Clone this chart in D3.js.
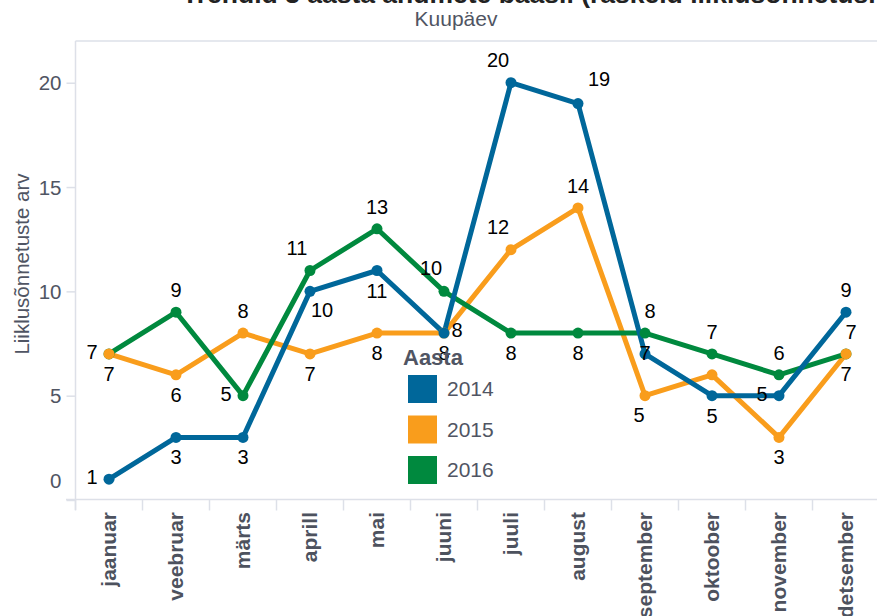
<!DOCTYPE html>
<html>
<head>
  <meta charset="utf-8">
  <title>Trendid 3 aasta andmete baasil</title>
  <style>
    body { margin: 0; background: #fff; overflow: hidden; }
    svg { display: block; font-family: Arial, "Liberation Sans", sans-serif; }
    .axis-line { stroke: #dde0e8; stroke-width: 1.5px; fill: none; }
    .tick-label { fill: #505563; font-size: 20.5px; }
    .month-label { fill: #4d525e; font-size: 21px; font-weight: bold; }
    .line { fill: none; stroke-width: 5px; stroke-linejoin: round; }
    .value-label { fill: #000; font-size: 20px; }
  </style>
</head>
<body>
  <script src="https://d3js.org/d3.v7.min.js"></script>
  <script>
    const months = ["jaanuar", "veebruar", "märts", "aprill", "mai", "juuni",
                    "juuli", "august", "september", "oktoober", "november", "detsember"];
    const years = ["2014", "2015", "2016"];
    const values2014 = [1, 3, 3, 10, 11, 8, 20, 19, 7, 5, 5, 9];
    const values2015 = [7, 6, 8, 7, 8, 8, 12, 14, 5, 6, 3, 7];
    const values2016 = [7, 9, 5, 11, 13, 10, 8, 8, 8, 7, 6, 7];
    const yTicks = [0, 5, 10, 15, 20];

    // where each value label sits relative to its point ("" = hidden)
    const place2014 = ["l", "b", "b", "br", "b", "r", "al", "ar", "c", "b", "l", "a"];
    const place2015 = ["b", "b", "a", "b", "b", "b", "al", "a", "bl", "", "b", "b"];
    const place2016 = ["l", "a", "l", "al", "a", "al", "b", "b", "ar2", "a", "a", "ar2"];

    const offsets = {
      a: [0, -22], b: [0, 20], l: [-17, -2], r: [13, -3], c: [0, -1],
      al: [-13, -23], ar: [21, -25], br: [12, 19], bl: [-6, 19], ar2: [5, -22]
    };

    const colors = { "2014": "#00679a", "2015": "#f99d1c", "2016": "#00893e" };

    const series = [
      { year: "2014", values: values2014, place: place2014 },
      { year: "2015", values: values2015, place: place2015 },
      { year: "2016", values: values2016, place: place2016 }
    ];

    const width = 877, height = 616;
    const svg = d3.select("body").append("svg")
      .attr("width", width).attr("height", height);

    const x = d3.scaleBand().domain(months).range([75.5, 879.5]);
    const y = d3.scaleLinear().domain([0, 22]).range([500, 41]);
    const cx = m => x(m) + x.bandwidth() / 2;

    // title (partly outside the view, as in the original)
    svg.append("text")
      .attr("x", 182).attr("y", 3)
      .attr("font-size", 26.5).attr("font-weight", "bold").attr("fill", "#222")
      .text("Trendid 3 aasta andmete baasil (raskeid liiklusõnnetusi kuude lõikes)");

    svg.append("text")
      .attr("x", 456).attr("y", 26)
      .attr("text-anchor", "middle")
      .attr("font-size", 21).attr("fill", "#505563")
      .text("Kuupäev");

    // frame lines
    svg.append("line").attr("class", "axis-line")
      .attr("x1", 75.5).attr("x2", width).attr("y1", 41).attr("y2", 41);
    svg.append("line").attr("class", "axis-line")
      .attr("x1", 75.5).attr("x2", 75.5).attr("y1", 41).attr("y2", 510);
    svg.append("line").attr("class", "axis-line")
      .attr("x1", 66).attr("x2", width).attr("y1", 499.5).attr("y2", 499.5);

    // y axis
    const yAxis = svg.append("g").attr("transform", "translate(75.5,0)")
      .call(d3.axisLeft(y).tickValues(yTicks).tickSize(9).tickPadding(5));
    yAxis.select(".domain").remove();
    yAxis.selectAll(".tick line").attr("class", "axis-line");
    yAxis.selectAll(".tick text")
      .attr("class", "tick-label")
      .attr("font-family", null).attr("font-size", null).attr("fill", null)
      .attr("dy", d => d === 0 ? "-0.6em" : "0.35em");

    svg.append("text")
      .attr("transform", "translate(29,264) rotate(-90)")
      .attr("text-anchor", "middle")
      .attr("class", "tick-label")
      .text("Liiklusõnnetuste arv");

    // x axis: band separators + rotated labels
    const xAxis = svg.append("g").attr("transform", "translate(0,499.5)")
      .call(d3.axisBottom(x).tickSize(0).tickPadding(0));
    xAxis.select(".domain").remove();
    xAxis.selectAll(".tick text").remove();
    xAxis.selectAll(".sep")
      .data(months.concat(["_end"]))
      .join("line")
      .attr("class", "axis-line")
      .attr("x1", (d, i) => 75.5 + i * x.step())
      .attr("x2", (d, i) => 75.5 + i * x.step())
      .attr("y1", 0).attr("y2", 11);
    svg.selectAll(".month-label")
      .data(months)
      .join("text")
      .attr("class", "month-label")
      .attr("text-anchor", "end")
      .attr("transform", d => `translate(${cx(d) + 7},512) rotate(-90)`)
      .text(d => d);

    // lines
    const line = d3.line().x((d, i) => cx(months[i])).y(d => y(d));
    const lineOrder = ["2015", "2016", "2014"];
    lineOrder.forEach(yr => {
      const s = series.find(s => s.year === yr);
      svg.append("path").attr("class", "line")
        .attr("stroke", colors[yr])
        .attr("d", line(s.values));
    });

    const dotOrder = ["2016", "2015", "2014"];
    dotOrder.forEach(yr => {
      const s = series.find(s => s.year === yr);
      svg.selectAll(null)
        .data(s.values)
        .join("circle")
        .attr("cx", (d, i) => cx(months[i]))
        .attr("cy", d => y(d))
        .attr("r", 5.5)
        .attr("fill", colors[yr]);
    });

    // value labels
    series.forEach(s => {
      svg.selectAll(null)
        .data(s.values.map((v, i) => ({ v, i, p: s.place[i] })).filter(d => d.p))
        .join("text")
        .attr("class", "value-label")
        .attr("text-anchor", "middle")
        .attr("x", d => cx(months[d.i]) + offsets[d.p][0])
        .attr("y", d => y(d.v) + offsets[d.p][1])
        .attr("dy", "0.35em")
        .text(d => d.v);
    });

    // legend
    const legend = svg.append("g").attr("transform", "translate(403,0)");
    legend.append("text")
      .attr("x", 0).attr("y", 365)
      .attr("font-size", 22).attr("font-weight", "bold").attr("fill", "#505563")
      .text("Aasta");
    const item = legend.selectAll(".item")
      .data(years)
      .join("g")
      .attr("transform", (d, i) => `translate(5,${375 + i * 40.5})`);
    item.append("rect")
      .attr("width", 29).attr("height", 28)
      .attr("fill", d => colors[d]);
    item.append("text")
      .attr("x", 39).attr("y", 14).attr("dy", "0.35em")
      .attr("font-size", 21).attr("fill", "#505563")
      .text(d => d);
  </script>
</body>
</html>
